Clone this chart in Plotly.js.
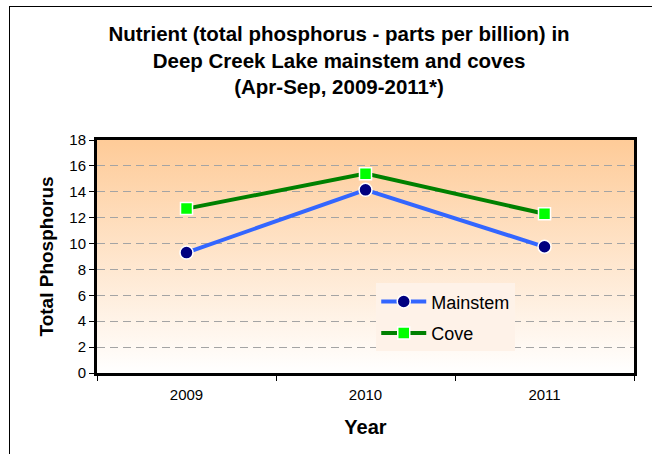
<!DOCTYPE html>
<html>
<head>
<meta charset="utf-8">
<script src="https://cdn.plot.ly/plotly-3.0.1.min.js"></script>
<style>
  html, body { margin: 0; padding: 0; background: #ffffff; }
  #frame { position: absolute; left: 9px; top: 6px; width: 650px; height: 460px;
           border-left: 1.5px solid #000; border-top: 1.5px solid #000; pointer-events: none; }
  #chart { position: absolute; left: 0; top: 0; width: 652px; height: 454px; }
</style>
</head>
<body>
<div id="chart"></div>
<div id="frame"></div>
<script>
const years = ["2009", "2010", "2011"];
const mainstem = [9.3, 14.15, 9.75];
const cove = [12.7, 15.4, 12.3];
const yTicks = [0, 2, 4, 6, 8, 10, 12, 14, 16, 18];

const gradSvg = '<svg xmlns="http://www.w3.org/2000/svg" width="100" height="100" preserveAspectRatio="none">' +
  '<defs><linearGradient id="g" x1="0" y1="0" x2="0" y2="1">' +
  '<stop offset="0" stop-color="#FECB98"/><stop offset="1" stop-color="#FFFFFF"/>' +
  '</linearGradient></defs><rect width="100" height="100" fill="url(#g)"/></svg>';
const gradUri = 'data:image/svg+xml;base64,' + btoa(gradSvg);

const font = "Liberation Sans, Arial, sans-serif";

const traces = [
  {
    x: years, y: mainstem, name: "Mainstem", type: "scatter", mode: "lines+markers",
    legendgroup: "a",
    line: { color: "#3366FF", width: 4 },
    marker: { symbol: "circle", size: 13, color: "#000080", line: { color: "#FFFFFF", width: 1.5 } }
  },
  {
    x: years, y: cove, name: "Cove", type: "scatter", mode: "lines+markers",
    legendgroup: "b",
    line: { color: "#008000", width: 4 },
    marker: { symbol: "square", size: 12, color: "#00FF00", line: { color: "#FFFFFF", width: 1.5 } }
  }
];

const layout = {
  width: 652, height: 454,
  margin: { l: 97, r: 18, t: 140, b: 81 },
  paper_bgcolor: "rgba(0,0,0,0)",
  plot_bgcolor: "rgba(0,0,0,0)",
  font: { family: font, color: "#000" },
  title: {
    text: "Nutrient (total phosphorus - parts per billion) in<br>Deep Creek Lake mainstem and coves<br>(Apr-Sep, 2009-2011*)",
    font: { family: font, size: 20.5, color: "#000", weight: "bold" },
    x: 339 / 652, xref: "container", xanchor: "center",
    y: 1 - 41 / 454, yref: "container", yanchor: "top"
  },
  images: [{
    source: gradUri, xref: "paper", yref: "paper", x: 0, y: 1, sizex: 1, sizey: 1,
    sizing: "stretch", xanchor: "left", yanchor: "top", layer: "below"
  }],
  xaxis: {
    type: "category", range: [-0.5, 2.5],
    tickson: "boundaries", ticks: "outside", ticklen: 5, tickcolor: "#000", tickwidth: 1,
    ticklabelstandoff: 6,
    showline: true, linecolor: "#000", linewidth: 3, mirror: true,
    showgrid: false, zeroline: false,
    tickfont: { family: font, size: 15, color: "#000" },
    title: { text: "Year", font: { family: font, size: 20, color: "#000", weight: "bold" }, standoff: 18 }
  },
  yaxis: {
    range: [0, 18], tickvals: yTicks, ticktext: yTicks.map(String),
    ticks: "outside", ticklen: 5, tickcolor: "#000", tickwidth: 1,
    showline: true, linecolor: "#000", linewidth: 3, mirror: true,
    showgrid: true, gridcolor: "#A4A4A4", griddash: "8px,5px", gridwidth: 1,
    zeroline: false,
    tickfont: { family: font, size: 15, color: "#000" },
    title: { text: "Total Phosphorus", font: { family: font, size: 19, color: "#000", weight: "bold" }, standoff: 11 }
  },
  legend: {
    x: 0.52, y: 0.385, xanchor: "left", yanchor: "top",
    bgcolor: "#FEF2E8", borderwidth: 0,
    font: { family: font, size: 18, color: "#000" },
    itemwidth: 45, traceorder: "grouped", tracegroupgap: 5
  },
  showlegend: true
};

Plotly.newPlot("chart", traces, layout, { staticPlot: true, displayModeBar: false });
</script>
</body>
</html>
